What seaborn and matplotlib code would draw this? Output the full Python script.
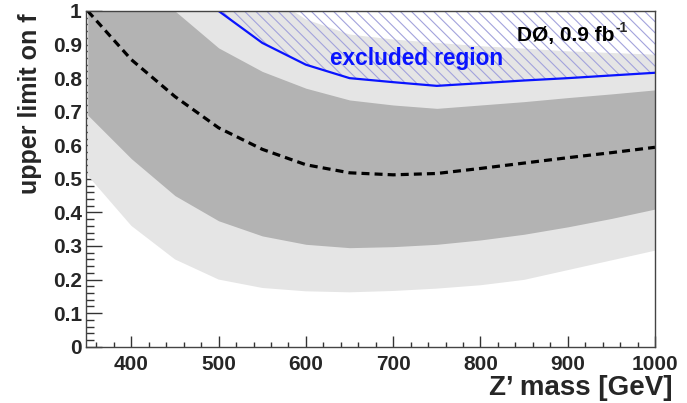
import matplotlib
matplotlib.use("Agg")
import matplotlib.pyplot as plt
from matplotlib.ticker import FixedLocator, FixedFormatter, MultipleLocator
import pandas as pd
import seaborn as sns

# Z' mass points [GeV] and limits on the fraction f
mass = [350, 400, 450, 500, 550, 600, 650, 700, 750, 800, 850, 900, 950, 1000]
expected = [1.0, 0.855, 0.745, 0.652, 0.588, 0.542, 0.518, 0.512, 0.516,
            0.531, 0.547, 0.563, 0.578, 0.594]
minus2 = [0.51, 0.36, 0.26, 0.20, 0.175, 0.165, 0.162, 0.166, 0.173,
          0.183, 0.199, 0.228, 0.257, 0.286]
minus1 = [0.69, 0.56, 0.45, 0.375, 0.33, 0.305, 0.295, 0.298, 0.305,
          0.318, 0.335, 0.357, 0.382, 0.41]
plus1 = [1.35, 1.15, 1.0, 0.89, 0.82, 0.77, 0.735, 0.72, 0.71,
         0.72, 0.73, 0.742, 0.753, 0.765]
plus2 = [1.6, 1.45, 1.3, 1.15, 1.06, 0.975, 0.93, 0.915, 0.905,
         0.895, 0.888, 0.88, 0.875, 0.87]

obs_mass = [500, 550, 600, 650, 700, 750, 800, 850, 900, 950, 1000]
observed = [1.0, 0.905, 0.84, 0.80, 0.788, 0.777, 0.785, 0.793, 0.80, 0.808, 0.816]

xticks = [400, 500, 600, 700, 800, 900, 1000]
xtick_labels = ["400", "500", "600", "700", "800", "900", "1000"]
yticks = [0.0, 0.1, 0.2, 0.3, 0.4, 0.5, 0.6, 0.7, 0.8, 0.9, 1.0]
ytick_labels = ["0", "0.1", "0.2", "0.3", "0.4", "0.5", "0.6", "0.7", "0.8", "0.9", "1"]

sns.set_style("ticks")
plt.rcParams["font.family"] = ["Liberation Sans", "DejaVu Sans"]
plt.rcParams["font.weight"] = "bold"
plt.rcParams["hatch.linewidth"] = 0.8

exp_df = pd.DataFrame({"mass": mass, "limit": expected})
obs_df = pd.DataFrame({"mass": obs_mass, "limit": observed})

fig = plt.figure(figsize=(6.87, 4.03), dpi=100)
ax = fig.add_axes([86 / 687, 1 - 346.7 / 403, 569 / 687, 335.7 / 403])
ax.set_xlim(348, 1000)
ax.set_ylim(0, 1)
top = ax.get_ylim()[1]

# expected +-2 sigma and +-1 sigma bands
ax.fill_between(mass, minus2, plus2, color="#e5e5e5", lw=0, zorder=1)
ax.fill_between(mass, minus1, plus1, color="#b3b3b3", lw=0, zorder=1.1)

# excluded region above the observed limit
ax.fill_between(obs_mass, observed, [top + 0.1] * len(obs_mass),
                facecolor="none", edgecolor="#a3a3dc", hatch="\\\\\\",
                lw=0, zorder=1.2)

sns.lineplot(data=exp_df, x="mass", y="limit", ax=ax, color="black",
             lw=2.3, sort=False, zorder=3)
ax.lines[-1].set_dashes((2.5, 1.6))
ax.lines[-1].set_dash_capstyle("butt")
sns.lineplot(data=obs_df, x="mass", y="limit", ax=ax, color="#0a14ff",
             lw=1.6, sort=False, zorder=3.1)

ax.text(628, 0.84, "excluded region", color="#0a14ff", fontsize=16.3,
        fontweight="bold", ha="left", va="baseline", zorder=4)
lumi = ax.text(842, 0.911, "DØ, 0.9 fb", color="black", fontsize=15,
               fontweight="bold", ha="left", va="baseline", zorder=4)
ax.annotate("-1", xy=(1, 1), xycoords=lumi, xytext=(0.5, -1.5),
            textcoords="offset points", fontsize=10, fontweight="bold",
            ha="left", va="center", zorder=4)

ax.xaxis.set_major_locator(FixedLocator(xticks))
ax.xaxis.set_major_formatter(FixedFormatter(xtick_labels))
ax.xaxis.set_minor_locator(MultipleLocator(20))
ax.yaxis.set_major_locator(FixedLocator(yticks))
ax.yaxis.set_major_formatter(FixedFormatter(ytick_labels))
ax.yaxis.set_minor_locator(MultipleLocator(0.02))

ax.tick_params(axis="x", which="major", direction="in", length=8, width=1,
               color="#333333", labelsize=15, pad=6, top=False)
ax.tick_params(axis="x", which="minor", direction="in", length=3.6, width=1,
               color="#333333", top=False)
ax.tick_params(axis="y", which="major", direction="in", length=11.5, width=1,
               color="#333333", labelsize=15, pad=3, right=False)
ax.tick_params(axis="y", which="minor", direction="in", length=6, width=1,
               color="#333333", right=False)
for lbl in ax.get_xticklabels() + ax.get_yticklabels():
    lbl.set_fontweight("bold")

for sp in ax.spines.values():
    sp.set_color("#444444")
    sp.set_linewidth(1.0)
    sp.set_zorder(5)

ax.set_xlabel("Z’ mass [GeV]", fontsize=20, fontweight="bold",
              ha="right", va="baseline")
ax.xaxis.set_label_coords(1.0316, -0.144)
ax.set_ylabel("upper limit on f", fontsize=18, fontweight="bold",
              ha="right", va="baseline")
ax.yaxis.set_label_coords(-0.0856, 0.994)

fig.savefig("out.png", dpi=100)
